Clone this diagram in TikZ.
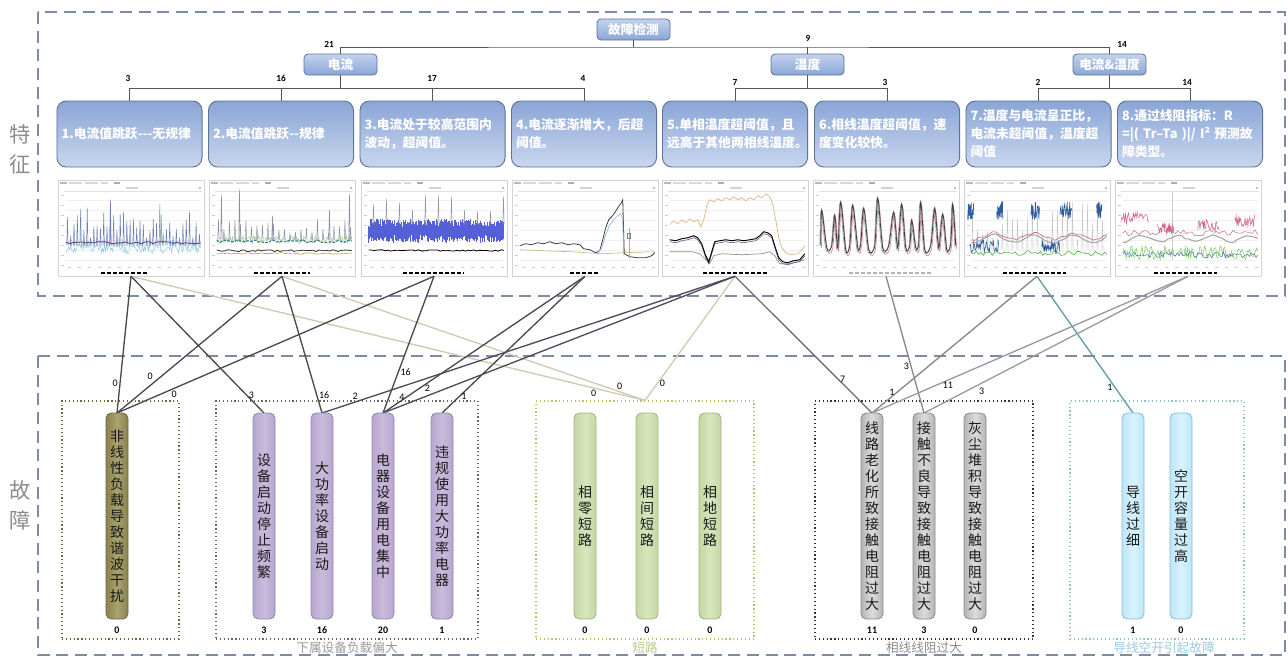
\documentclass[tikz,border=0pt]{standalone}
\usepackage{fontspec}
\setmainfont{Noto Sans CJK SC}
\newfontfamily\numfont{Carlito}
\usetikzlibrary{calc}

% section frames and tree
\definecolor{frameblue}{HTML}{7C8CA6}
\definecolor{featborder}{HTML}{5C7299}
\definecolor{feattop}{HTML}{8AA5D6}
\definecolor{featbot}{HTML}{C9D7EF}
\definecolor{treetop}{HTML}{C4D3EE}
\definecolor{treebot}{HTML}{8AA5D6}
\definecolor{treeline}{HTML}{555555}
\definecolor{seclabel}{HTML}{8C8C8C}
% fault bars
\definecolor{olivefill}{HTML}{ABA36E}
\definecolor{oliveedge}{HTML}{8A824F}
\definecolor{oliveborder}{HTML}{6E673E}
\definecolor{purplefill}{HTML}{C9BBDC}
\definecolor{purpleedge}{HTML}{B7A6CF}
\definecolor{purpleborder}{HTML}{9484AE}
\definecolor{greenfill}{HTML}{D8E6BD}
\definecolor{greenedge}{HTML}{C5D7A3}
\definecolor{greenborder}{HTML}{9FB57E}
\definecolor{grayfill}{HTML}{DCDCDC}
\definecolor{grayedge}{HTML}{B4B4B4}
\definecolor{grayborder}{HTML}{8A8A8A}
\definecolor{cyanfill}{HTML}{D6F2FD}
\definecolor{cyanedge}{HTML}{BDE6F6}
\definecolor{cyanborder}{HTML}{86BED6}
% groups
\definecolor{gone}{HTML}{6B6A3E}
\definecolor{gtwo}{HTML}{666666}
\definecolor{gthree}{HTML}{B5C46A}
\definecolor{gfour}{HTML}{333333}
\definecolor{gfive}{HTML}{8EC2CC}
\definecolor{gtwotext}{HTML}{9A9A9A}
\definecolor{gthreetext}{HTML}{B8CC8C}
\definecolor{gfourtext}{HTML}{8C8C8C}
\definecolor{gfivetext}{HTML}{9CC9E0}
% connectors
\definecolor{cdark}{HTML}{4A4A4A}
\definecolor{cpurple}{HTML}{4F4A5E}
\definecolor{ctan}{HTML}{CFCAB0}
\definecolor{csage}{HTML}{C9D0B2}
\definecolor{cmid}{HTML}{6E6E6E}
\definecolor{cgraya}{HTML}{888888}
\definecolor{cgrayb}{HTML}{9A9A9A}
\definecolor{cteal}{HTML}{5E9EA9}
% chart series
\definecolor{cacyan}{HTML}{8CC8DC}
\definecolor{cablue}{HTML}{6A7FB8}
\definecolor{cadark}{HTML}{5A4F7A}
\definecolor{cagreen}{HTML}{7DBF6A}
\definecolor{cbgreen}{HTML}{9CCB8A}
\definecolor{cbgray}{HTML}{8A8FA0}
\definecolor{cbteal}{HTML}{3F7F8F}
\definecolor{cbdark}{HTML}{333333}
\definecolor{cbolive}{HTML}{B8A860}
\definecolor{ccblue}{HTML}{5560D8}
\definecolor{ccgray}{HTML}{9098A8}
\definecolor{cddark}{HTML}{404040}
\definecolor{cdblue}{HTML}{8FB4D8}
\definecolor{cdtan}{HTML}{C8B98A}
\definecolor{cetan}{HTML}{E0B27A}
\definecolor{cepurple}{HTML}{7A5A8A}
\definecolor{cegray}{HTML}{8C8C8C}
\definecolor{cfpink}{HTML}{C88A9A}
\definecolor{cfgray}{HTML}{9A9A9A}
\definecolor{cgblue}{HTML}{2F5E9E}
\definecolor{cgpink}{HTML}{C07080}
\definecolor{cggreen}{HTML}{5CB84C}
\definecolor{chpink}{HTML}{D0608A}
\definecolor{chgreen}{HTML}{6CCB4C}
\definecolor{chblue}{HTML}{4A6AB0}

% thin spikes rising from a base line
\newcommand\spikes[7]{%
  \foreach \sx in {#2,#3,...,#4}{%
    \pgfmathsetmacro\sh{#6+(#7-#6)*rnd}%
    \draw[#1] (\sx,#5) -- (\sx+0.7,#5-\sh) -- (\sx+1.4,#5);}}

% common screenshot furniture of a chart: toolbar, title, grid, ticks, legend
\newcommand\chartbase[3]{%
  \fill[gray!55] (2,2) rectangle (9,4.5);
  \fill[gray!30] (11,2.5) rectangle (24,4);
  \fill[gray!30] (27,2.5) rectangle (40,4);
  \fill[gray!30] (43,2.5) rectangle (50,4);
  \fill[gray!65] (56,2) rectangle (62,4.5);
  \fill[gray!35] (68,7.5) rectangle (80,9);
  \fill[gray!50] (141,7) rectangle (143,9);
  \draw[gray!25,line width=0.3pt] (6,11) -- (144,11);
  \foreach \gy in {20,30,...,80} \draw[gray!12,line width=0.3pt] (8,\gy) -- (143,\gy);
  \foreach \gy in {15,25,...,85} \fill[gray!40] (3,\gy) rectangle ++(3,0.8);
  \foreach \gx in {10,20,...,140} \fill[gray!40] (\gx,87) rectangle ++(3,1);
  \draw[#3,line width=1.2pt,dash pattern=on 3pt off 1.5pt] (#1,93) -- (#2,93);}

\begin{document}
\begin{tikzpicture}[x=0.75pt,y=-0.75pt,
  secframe/.style={draw=frameblue,line width=1.7pt,dash pattern=on 9pt off 5pt},
  seclbl/.style={text=seclabel,font=\fontsize{16}{22.5}\selectfont,align=center,inner sep=0pt},
  treebox/.style={draw=featborder,line width=0.6pt,rounded corners=3pt,
    top color=treetop,bottom color=treebot,minimum width=54.75pt,minimum height=15.75pt,
    inner sep=0pt,text=white,font=\fontsize{9.5}{10}\selectfont\bfseries},
  featbox/.style={draw=featborder,line width=0.7pt,rounded corners=7pt,
    top color=feattop,bottom color=featbot,minimum width=108.75pt,minimum height=49.5pt,
    text width=102pt,inner xsep=3.4pt,align=left,text=white,
    font=\fontsize{9.6}{13.5}\selectfont\bfseries},
  treeln/.style={draw=treeline,line width=0.6pt},
  tnum/.style={font=\numfont\bfseries\fontsize{7}{8}\selectfont,text=black,inner sep=0pt},
  chartbox/.style={draw=gray!35,line width=0.4pt,fill=white,minimum width=109.5pt,
    minimum height=72pt,inner sep=0pt},
  vbar/.style={rounded corners=4pt,minimum width=16.5pt,minimum height=154.5pt,inner sep=0pt,
    align=center,text=black!90,font=\fontsize{10.5}{12}\selectfont,line width=0.6pt},
  barolive/.style={vbar,draw=oliveborder,left color=oliveedge,right color=oliveedge,middle color=olivefill},
  barpurple/.style={vbar,draw=purpleborder,left color=purpleedge,right color=purpleedge,middle color=purplefill},
  bargreen/.style={vbar,draw=greenborder,left color=greenedge,right color=greenedge,middle color=greenfill},
  bargray/.style={vbar,draw=grayborder,left color=grayedge,right color=grayedge,middle color=grayfill},
  barcyan/.style={vbar,draw=cyanborder,left color=cyanedge,right color=cyanedge,middle color=cyanfill},
  grpbox/.style={dotted,line width=0.9pt,inner sep=0pt,minimum height=178.5pt},
  grplbl/.style={font=\fontsize{9.5}{10}\selectfont,inner sep=0pt},
  bnum/.style={font=\numfont\bfseries\fontsize{7.5}{8}\selectfont,text=black,inner sep=0pt},
  conn/.style={line width=1pt},
  lbl/.style={font=\numfont\fontsize{7.5}{8}\selectfont,text=black,inner sep=1.2pt}
]
\useasboundingbox (0,0) rectangle (1288,658);

% ---------- section frames ----------
\draw[secframe] (38,12) rectangle (1285,296);
\draw[secframe] (38,356) rectangle (1285,655);
\node[seclbl] (secA) at (20,149) {特\\征};
\node[seclbl] (secB) at (20,505) {故\\障};

% ---------- detection tree ----------
\node[treebox] (t0) at (633.5,29.5) {故障检测};
\node[treebox] (t1) at (340.5,64.5) {电流};
\node[treebox] (t2) at (807.5,64.5) {温度};
\node[treebox] (t3) at (1109.5,64.5) {电流\&温度};

\node[featbox] (f1) at (129.5,134) {1.电流值跳跃-{}-{}-无规律};
\node[featbox] (f2) at (281,134) {2.电流值跳跃-{}-规律};
\node[featbox] (f3) at (432.5,134) {3.电流处于较高范围内\\波动，超阈值。};
\node[featbox] (f4) at (584,134) {4.电流逐渐增大，后超\\阈值。};
\node[featbox] (f5) at (735,134) {5.单相温度超阈值，且\\远高于其他两相线温度。};
\node[featbox] (f6) at (887,134) {6.相线温度超阈值，速\\度变化较快。};
\node[featbox] (f7) at (1038.5,134) {7.温度与电流呈正比，\\电流未超阈值，温度超\\阈值};
\node[featbox] (f8) at (1190,134) {8.通过线阻指标：R\\=|( Tr–Ta )|/ I² 预测故\\障类型。};

\coordinate (busA) at (0,47);
\coordinate (busB) at (0,88);
\draw[treeln] (t0.south) -- (t0.south |- busA);
\draw[treeln] (t1.north) |- (t0.south |- busA) -| (t3.north);
\draw[treeln] (t2.north) -- (t2.north |- busA);
\draw[treeln] (t1.south) -- (t1.south |- busB);
\draw[treeln] (f1.north) |- (f4.north |- busB) -- (f4.north);
\draw[treeln] (f2.north) -- (f2.north |- busB);
\draw[treeln] (f3.north) -- (f3.north |- busB);
\draw[treeln] (t2.south) -- (t2.south |- busB);
\draw[treeln] (f5.north) |- (f6.north |- busB) -- (f6.north);
\draw[treeln] (t3.south) -- (t3.south |- busB);
\draw[treeln] (f7.north) |- (f8.north |- busB) -- (f8.north);

\node[tnum] (n21) at (329,44) {21};
\node[tnum] (n9) at (808,38) {9};
\node[tnum] (n14) at (1122,44) {14};
\node[tnum] (m1) at (128,78) {3};
\node[tnum] (m2) at (281,78) {16};
\node[tnum] (m3) at (432,78) {17};
\node[tnum] (m4) at (583,78) {4};
\node[tnum] (m5) at (735,82) {7};
\node[tnum] (m6) at (885,82) {3};
\node[tnum] (m7) at (1038,82) {2};
\node[tnum] (m8) at (1187,82) {14};

% ---------- charts ----------
\node[chartbox] (ch1) at (131,228) {};
\node[chartbox] (ch2) at (282,228) {};
\node[chartbox] (ch3) at (434,228) {};
\node[chartbox] (ch4) at (585,228) {};
\node[chartbox] (ch5) at (735,228) {};
\node[chartbox] (ch6) at (886,228) {};
\node[chartbox] (ch7) at (1037,228) {};
\node[chartbox] (ch8) at (1188,228) {};

\pgfmathsetseed{11}
\begin{scope}[shift={(ch1.north west)}]
  \chartbase{43}{89}{black}
  \draw[cacyan,line width=0.35pt] plot[domain=8:143,samples=140] (\x,{63+11*rnd});
  \spikes{cablue,line width=0.35pt}{9}{12.3}{142}{66}{8}{42}
  \draw[cablue,line width=0.4pt] (52,66) -- (52.7,20) -- (53.4,66);
  \draw[cagreen,line width=0.35pt] (103,64) -- (103.6,35) -- (104.2,64);
  \draw[cadark,line width=0.7pt] plot[domain=8:143,samples=35] (\x,{62+2*rnd});
\end{scope}

\begin{scope}[shift={(ch2.north west)}]
  \chartbase{45}{101}{black}
  \draw[cbgreen,line width=0.35pt] plot[domain=8:143,samples=130] (\x,{56+8*rnd});
  \spikes{cbgray,line width=0.35pt}{9}{14.5}{142}{60}{6}{22}
  \foreach \sx/\sh in {12/45,30/50,63/24,120/30,140/46}
    \draw[cbgray,line width=0.4pt] (\sx,60) -- (\sx+0.7,60-\sh) -- (\sx+1.4,60);
  \draw[cbteal,line width=0.9pt,dash pattern=on 2pt off 1pt] plot[domain=8:143,samples=40] (\x,{60+3*rnd});
  \draw[cbdark,line width=0.6pt] plot[domain=8:143,samples=50] (\x,{70+2*rnd});
  \draw[cbolive,line width=0.5pt] plot[domain=8:143,samples=50] (\x,{73+1.5*rnd});
\end{scope}

\begin{scope}[shift={(ch3.north west)}]
  \chartbase{42}{103}{black}
  \foreach \x in {8,8.6,...,143}
    \draw[ccblue,line width=0.45pt] (\x,{39+8*rnd}) -- (\x,{63-8*rnd});
  \spikes{ccgray,line width=0.35pt}{12}{25}{142}{45}{8}{30}
  \draw[black,line width=0.6pt] plot[domain=8:143,samples=50] (\x,{70+1.5*rnd});
\end{scope}

\begin{scope}[shift={(ch4.north west)}]
  \chartbase{58}{88}{black}
  \draw[cdtan,line width=0.5pt] plot coordinates {(8,70) (30,71) (60,72) (90,74) (112,73) (143,72)};
  \draw[cddark,line width=0.6pt] plot coordinates {(8,66) (14,64) (20,65) (26,63) (32,64) (38,62) (44,64) (50,63) (56,65) (62,64) (68,65) (72,69) (78,70) (84,73) (88,71) (91,60) (94,48) (97,40) (100,37) (103,33) (106,28) (109,24) (111,20) (112.5,74) (118,77) (126,78) (134,78) (140,76) (143,73)};
  \draw[cdblue,line width=0.5pt] plot coordinates {(86,73) (90,68) (94,55) (98,45) (102,40) (106,36) (109,34) (111,40) (112,75)};
  \draw[cdblue,line width=0.4pt] (118,48) -- (118,78);
  \draw[gray,line width=0.4pt] (116,54) rectangle (119,59);
\end{scope}

\begin{scope}[shift={(ch5.north west)}]
  \chartbase{41}{106}{black}
  \draw[cegray,line width=0.5pt] plot coordinates {(8,72) (30,72) (38,74) (44,80) (48,84) (52,76) (60,74) (80,75) (100,74) (108,72) (113,76) (118,84) (128,84) (143,80)};
  \draw[cetan,line width=0.5pt] plot coordinates {(8,45) (12,41) (16,44) (20,40) (24,43) (28,39) (32,42) (36,40) (39,47) (42,40) (45,26) (48,20) (52,22) (56,19) (60,21) (64,18) (68,20) (72,17) (76,20) (80,18) (84,21) (88,18) (92,20) (96,16) (100,18) (104,14) (108,17) (111,24) (114,40) (117,58) (120,68) (124,73) (130,75) (136,74) (140,70) (143,66)};
  \begin{scope}[shift={(0,2)}]
    \draw[cepurple,line width=0.5pt] plot coordinates {(8,60) (14,61) (20,59) (26,58) (32,56) (36,58) (40,64) (44,76) (47,82) (50,72) (53,62) (58,61) (64,60) (70,61) (76,60) (82,61) (88,60) (94,59) (98,56) (102,52) (106,53) (110,56) (113,66) (117,78) (121,82) (126,83) (132,81) (138,80) (143,74)};
  \end{scope}
  \draw[black,line width=0.7pt] plot coordinates {(8,60) (14,61) (20,59) (26,58) (32,56) (36,58) (40,64) (44,76) (47,82) (50,72) (53,62) (58,61) (64,60) (70,61) (76,60) (82,61) (88,60) (94,59) (98,56) (102,52) (106,53) (110,56) (113,66) (117,78) (121,82) (126,83) (132,81) (138,80) (143,74)};
\end{scope}

\begin{scope}[shift={(ch6.north west)}]
  \chartbase{36}{118}{gray!60}
  \begin{scope}[shift={(0.8,3)}]
    \draw[cfpink,line width=0.5pt] plot[smooth,tension=0.5] coordinates {(8,65) (9,30) (14,68) (19,66) (22,35) (25,68) (28,22) (33,70) (37,66) (40,25) (45,68) (48,64) (51,28) (56,70) (62,66) (65,18) (70,68) (76,66) (81,32) (85,68) (89,24) (93,68) (97,66) (99,40) (103,68) (106,64) (108,22) (112,70) (118,66) (122,28) (126,68) (130,34) (134,70) (138,64) (140,24) (143,66)};
  \end{scope}
  \begin{scope}[shift={(-0.8,1.5)}]
    \draw[cfgray,line width=0.5pt] plot[smooth,tension=0.5] coordinates {(8,65) (9,30) (14,68) (19,66) (22,35) (25,68) (28,22) (33,70) (37,66) (40,25) (45,68) (48,64) (51,28) (56,70) (62,66) (65,18) (70,68) (76,66) (81,32) (85,68) (89,24) (93,68) (97,66) (99,40) (103,68) (106,64) (108,22) (112,70) (118,66) (122,28) (126,68) (130,34) (134,70) (138,64) (140,24) (143,66)};
  \end{scope}
  \draw[black!75,line width=0.6pt] plot[smooth,tension=0.5] coordinates {(8,65) (9,30) (14,68) (19,66) (22,35) (25,68) (28,22) (33,70) (37,66) (40,25) (45,68) (48,64) (51,28) (56,70) (62,66) (65,18) (70,68) (76,66) (81,32) (85,68) (89,24) (93,68) (97,66) (99,40) (103,68) (106,64) (108,22) (112,70) (118,66) (122,28) (126,68) (130,34) (134,70) (138,64) (140,24) (143,66)};
\end{scope}

\begin{scope}[shift={(ch7.north west)}]
  \chartbase{39}{102}{black}
  \spikes{gray!45,line width=0.3pt}{8}{13}{142}{70}{10}{50}
  \draw[cggreen,line width=0.5pt] plot[domain=8:143,samples=60] (\x,{71+5*rnd});
  \foreach \a/\b in {6/35,78/96}
    \draw[cgblue,line width=0.45pt] plot[domain=\a:\b,samples=45] (\x,{60+14*rnd});
  \draw[gray!70,line width=0.8pt] plot[smooth,domain=8:143,samples=30] (\x,{58+4*sin(\x*9)+2*rnd});
  \draw[cgpink,line width=0.5pt] plot[domain=8:143,samples=40] (\x,{55+3*sin(\x*9)+3*rnd});
  \foreach \a/\b in {4/10,33/39,67/76,96/108,133/138}
    \draw[cgblue,line width=0.5pt] plot[domain=\a:\b,samples=25] (\x,{22+18*rnd});
\end{scope}

\begin{scope}[shift={(ch8.north west)}]
  \chartbase{39}{102}{black}
  \draw[gray!40,line width=0.3pt] (57,12) -- (57,80);
  \draw[chgreen,line width=0.35pt] plot[domain=8:143,samples=120] (\x,{66+14*rnd});
  \draw[chblue,line width=0.35pt] plot[domain=8:143,samples=80] (\x,{72+6*rnd});
  \draw[gray!70,line width=0.8pt] plot[domain=8:143,samples=40] (\x,{58+3*sin(\x*10)+2*rnd});
  \draw[chpink,line width=0.35pt] plot[domain=8:143,samples=50] (\x,{50+6*rnd});
  \foreach \a/\b/\c in {6/34/32,43/59/42,83/104/40,120/140/35}
    \draw[chpink,line width=0.4pt] plot[domain=\a:\b,samples=30] (\x,{\c+12*rnd});
\end{scope}

% ---------- fault groups ----------
\node[grpbox,draw=gone,minimum width=87.75pt] (g1) at (120.5,520) {};
\node[grpbox,draw=gtwo,minimum width=196.5pt] (g2) at (347,520) {};
\node[grpbox,draw=gthree,minimum width=163.5pt] (g3) at (645,520) {};
\node[grpbox,draw=gfour,minimum width=163.5pt] (g4) at (924,520) {};
\node[grpbox,draw=gfive,minimum width=130.5pt] (g5) at (1157,520) {};

\node[grplbl,text=gtwotext] (l2) at (347,648) {下属设备负载偏大};
\node[grplbl,text=gthreetext] (l3) at (645,648) {短路};
\node[grplbl,text=gfourtext] (l4) at (924,648) {相线线阻过大};
\node[grplbl,text=gfivetext] (l5) at (1164,648) {导线空开引起故障};

% ---------- connectors ----------
\draw[conn,ctan] (ch1.south) -- node[lbl,pos=0.9,below] {0} (g3.north);
\draw[conn,ctan] (ch2.south) -- node[lbl,pos=0.93,above] {0} (g3.north);
\draw[conn,csage] (ch5.south) -- node[lbl,pos=0.86,right] {0} (g3.north);
\draw[conn,cdark] (ch1.south) -- node[lbl,pos=0.78,left] {0} (117,413);
\draw[conn,cdark] (ch2.south) -- node[lbl,pos=0.77,above left] {0} (117,413);
\draw[conn,cdark] (ch3.south) -- node[lbl,pos=0.82,below] {0} (117,413);
\draw[conn,cdark] (ch1.south) -- node[lbl,pos=0.87,right] {3} (264,413);
\draw[conn,cdark] (ch2.south) -- node[lbl,pos=0.87,right] {16} (322,413);
\draw[conn,cdark] (ch3.south) -- node[lbl,pos=0.7,right] {16} (383,413);
\draw[conn,cdark] (ch4.south) -- node[lbl,pos=0.78,below] {2} (383,413);
\draw[conn,cdark] (ch4.south) -- node[lbl,pos=0.88,right] {1} (442,413);
\draw[conn,cpurple] (ch5.south) -- node[lbl,pos=0.92,above] {2} (322,413);
\draw[conn,cpurple] (ch5.south) -- node[lbl,pos=0.946,above=2pt] {4} (383,413);
\draw[conn,cmid] (ch5.south) -- node[lbl,pos=0.75,right] {7} (872,413);
\draw[conn,cgraya] (ch6.south) -- node[lbl,pos=0.66,left] {3} (924,413);
\draw[conn,cgraya] (ch7.south) -- node[lbl,pos=0.85,left] {1} (872,413);
\draw[conn,cteal] (ch7.south) -- node[lbl,pos=0.81,left] {1} (1133,413);
\draw[conn,cgrayb] (ch8.south) -- node[lbl,pos=0.76,below] {11} (872,413);
\draw[conn,cgrayb] (ch8.south) -- node[lbl,pos=0.8,below right] {3} (924,413);

% ---------- fault bars ----------
\node[barolive] (b1) at (117,516) {非\\线\\性\\负\\载\\导\\致\\谐\\波\\干\\扰};
\node[barpurple] (b2) at (264,516) {设\\备\\启\\动\\停\\止\\频\\繁};
\node[barpurple] (b3) at (322,516) {大\\功\\率\\设\\备\\启\\动};
\node[barpurple] (b4) at (383,516) {电\\器\\设\\备\\用\\电\\集\\中};
\node[barpurple] (b5) at (442,516) {违\\规\\使\\用\\大\\功\\率\\电\\器};
\node[bargreen] (b6) at (585,516) {相\\零\\短\\路};
\node[bargreen] (b7) at (647,516) {相\\间\\短\\路};
\node[bargreen] (b8) at (710,516) {相\\地\\短\\路};
\node[bargray] (b9) at (872,516) {线\\路\\老\\化\\所\\致\\接\\触\\电\\阻\\过\\大};
\node[bargray] (b10) at (924,516) {接\\触\\不\\良\\导\\致\\接\\触\\电\\阻\\过\\大};
\node[bargray] (b11) at (975,516) {灰\\尘\\堆\\积\\导\\致\\接\\触\\电\\阻\\过\\大};
\node[barcyan] (b12) at (1133,516) {导\\线\\过\\细};
\node[barcyan] (b13) at (1181,516) {空\\开\\容\\量\\过\\高};

\foreach \b/\v in {b1/0,b2/3,b3/16,b4/20,b5/1,b6/0,b7/0,b8/0,b9/11,b10/3,b11/0,b12/1,b13/0}
  \node[bnum] (\b num) at ($(\b.south)+(0,11)$) {\v};
\end{tikzpicture}
\end{document}
